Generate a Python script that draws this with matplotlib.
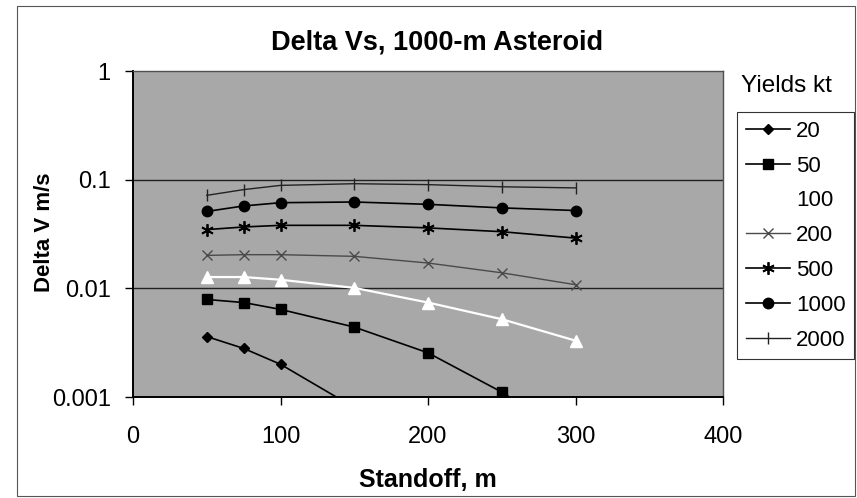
import numpy as np
import matplotlib.pyplot as plt
from matplotlib.patches import Rectangle

plt.rcParams['font.family'] = ['Liberation Sans', 'DejaVu Sans']

# standoff distance (m) and delta V (m/s) for each yield (kt)
standoff = [50, 75, 100, 150, 200, 250, 300]
dv_20 = [0.0036, 0.0028, 0.0020, 0.0008, np.nan, np.nan, np.nan]
dv_50 = [0.0079, 0.0074, 0.0064, 0.0044, 0.00255, 0.00111, 0.0004]
dv_100 = [0.0127, 0.0127, 0.0120, 0.0101, 0.0074, 0.0052, 0.0033]
dv_200 = [0.0201, 0.0204, 0.0204, 0.0197, 0.0171, 0.0139, 0.0108]
dv_500 = [0.0347, 0.0367, 0.038, 0.038, 0.036, 0.0332, 0.029]
dv_1000 = [0.051, 0.0573, 0.0614, 0.0623, 0.0593, 0.055, 0.052]
dv_2000 = [0.0717, 0.081, 0.0886, 0.0918, 0.090, 0.086, 0.084]

x_ticks = [0, 100, 200, 300, 400]
y_ticks = [0.001, 0.01, 0.1, 1]
y_labels = ['0.001', '0.01', '0.1', '1']

W, H = 857, 498
fig = plt.figure(figsize=(W / 100, H / 100), dpi=100)
ax = fig.add_axes([133 / W, 1 - 397 / H, 590 / W, 326 / H])
ax.set_facecolor('#a8a8a8')

lw = 1.2
ax.plot(standoff, dv_20, color='black', lw=lw, marker='D', ms=5.5, label='20')
ax.plot(standoff, dv_50, color='black', lw=lw, marker='s', ms=6.5, label='50')
ax.plot(standoff, dv_100, color='white', lw=1.6, marker='^', ms=8, label='100')
ax.plot(standoff, dv_200, color='#4a4a4a', lw=1.0, marker='x', ms=7, mew=1.0, label='200')
ax.plot(standoff, dv_500, color='black', lw=lw, marker=(6, 2, 0), ms=9, mew=1.3, label='500')
ax.plot(standoff, dv_1000, color='black', lw=lw, marker='o', ms=7.5, label='1000')
ax.plot(standoff, dv_2000, color='#222222', lw=1.0, marker='|', ms=9, mew=1.0, label='2000')

ax.set_yscale('log')
ax.set_xlim(0, 400)
ax.set_ylim(0.001, 1)
ax.set_xticks(x_ticks)
ax.set_xticklabels([str(v) for v in x_ticks])
ax.set_yticks(y_ticks)
ax.set_yticklabels(y_labels)
ax.yaxis.set_minor_locator(plt.NullLocator())

for yv in [0.01, 0.1]:
    ax.axhline(yv, color='#202020', lw=1.0, zorder=1)

ax.tick_params(axis='both', direction='out', length=6, width=1, labelsize=17, colors='black')
ax.tick_params(axis='x', pad=15)
ax.tick_params(axis='y', pad=10)

for side in ['left', 'bottom']:
    ax.spines[side].set_color('black')
    ax.spines[side].set_linewidth(1.4)
for side in ['top', 'right']:
    ax.spines[side].set_color('#505050')
    ax.spines[side].set_linewidth(1.0)

fig.text(437 / W, 1 - 42 / H, 'Delta Vs, 1000-m Asteroid', ha='center', va='center',
         fontsize=19.5, fontweight='bold')
fig.text(428 / W, 1 - 480 / H, 'Standoff, m', ha='center', va='center',
         fontsize=18, fontweight='bold')
fig.text(44 / W, 1 - 232 / H, 'Delta V m/s', ha='center', va='center', rotation=90,
         fontsize=16, fontweight='bold')
fig.text(786 / W, 1 - 86 / H, 'Yields kt', ha='center', va='center', fontsize=17.5)

leg = fig.legend(loc='upper left', bbox_to_anchor=(737 / W, 1 - 112 / H),
                 frameon=True, fancybox=False, fontsize=16, handlelength=2.0,
                 handletextpad=0.25, labelspacing=0.62, borderpad=0.4,
                 borderaxespad=0)
leg.get_frame().set_edgecolor('black')
leg.get_frame().set_linewidth(0.8)

fig.patches.append(Rectangle((17 / W, 2 / H), 838 / W, 490 / H, transform=fig.transFigure,
                             fill=False, edgecolor='#555555', lw=0.8))

fig.savefig('out.png', dpi=100)
